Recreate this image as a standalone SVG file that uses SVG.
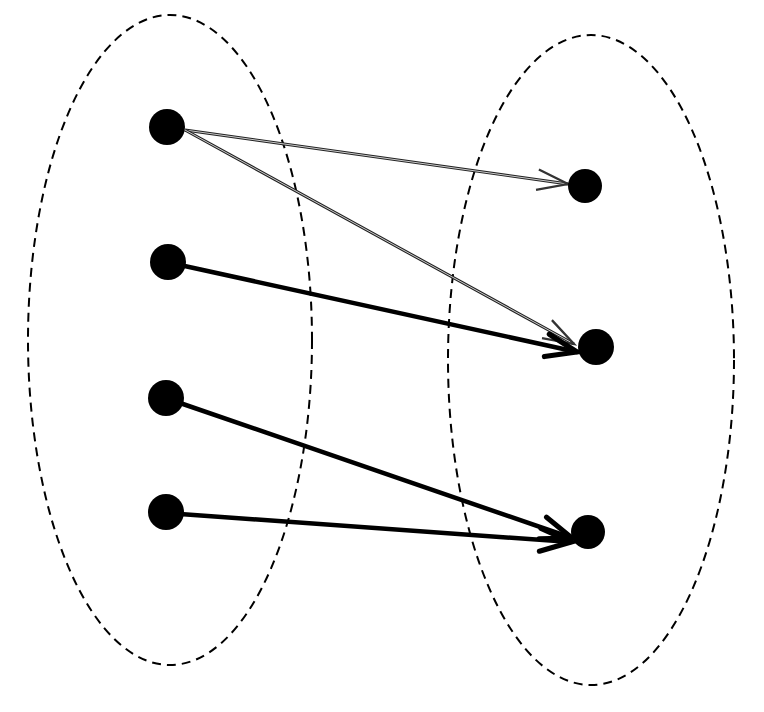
<svg xmlns="http://www.w3.org/2000/svg" width="764" height="712" viewBox="0 0 764 712">
<style>
.set{fill:none;stroke:#000;stroke-width:2;stroke-dasharray:9 6}
.dot{fill:#000}
.thick{stroke:#000;stroke-width:4.5;fill:none;stroke-linecap:round}
.thinout{stroke:#222;stroke-width:3;fill:none}
.thinin{stroke:#ccc;stroke-width:1;fill:none}
</style>
<defs>
<marker id="hthick" markerUnits="userSpaceOnUse" markerWidth="40" markerHeight="40" viewBox="-30 -15 35 30" refX="0" refY="0" orient="auto">
<path d="M-27,-10 L0,0 L-27,10" fill="none" stroke="#000" stroke-width="4.5" stroke-linecap="round"/>
</marker>
<marker id="hthin" markerUnits="userSpaceOnUse" markerWidth="40" markerHeight="40" viewBox="-30 -15 35 30" refX="0" refY="0" orient="auto">
<path d="M-27,-9 L0,0 L-27,9" fill="none" stroke="#333" stroke-width="2"/>
</marker>
</defs>
<g id="sets">
<ellipse class="set" cx="170" cy="340" rx="142" ry="325"/>
<ellipse class="set" cx="591" cy="360" rx="143" ry="325"/>
</g>
<g id="connectors">
<line class="thinout" x1="185" y1="130" x2="568" y2="184"/>
<line class="thinin" x1="185" y1="130" x2="568" y2="184"/>
<line x1="185" y1="130" x2="568" y2="184" stroke="none" marker-end="url(#hthin)"/>
<line class="thinout" x1="185" y1="130" x2="574" y2="344"/>
<line class="thinin" x1="185" y1="130" x2="574" y2="344"/>
<line x1="185" y1="130" x2="574" y2="344" stroke="none" marker-end="url(#hthin)"/>
<line class="thick" x1="180" y1="265" x2="577" y2="352" marker-end="url(#hthick)"/>
<line class="thick" x1="180" y1="403" x2="572" y2="538" marker-end="url(#hthick)"/>
<line class="thick" x1="180" y1="514" x2="571" y2="542" marker-end="url(#hthick)"/>
</g>
<g id="a1"><circle class="dot" cx="167" cy="127" r="18"/></g>
<g id="a2"><circle class="dot" cx="168" cy="262" r="18"/></g>
<g id="a3"><circle class="dot" cx="166" cy="398" r="18"/></g>
<g id="a4"><circle class="dot" cx="166" cy="512" r="18"/></g>
<g id="b1"><circle class="dot" cx="585" cy="186" r="17"/></g>
<g id="b2"><circle class="dot" cx="596" cy="347" r="18"/></g>
<g id="b3"><circle class="dot" cx="588" cy="532" r="17"/></g>
</svg>
